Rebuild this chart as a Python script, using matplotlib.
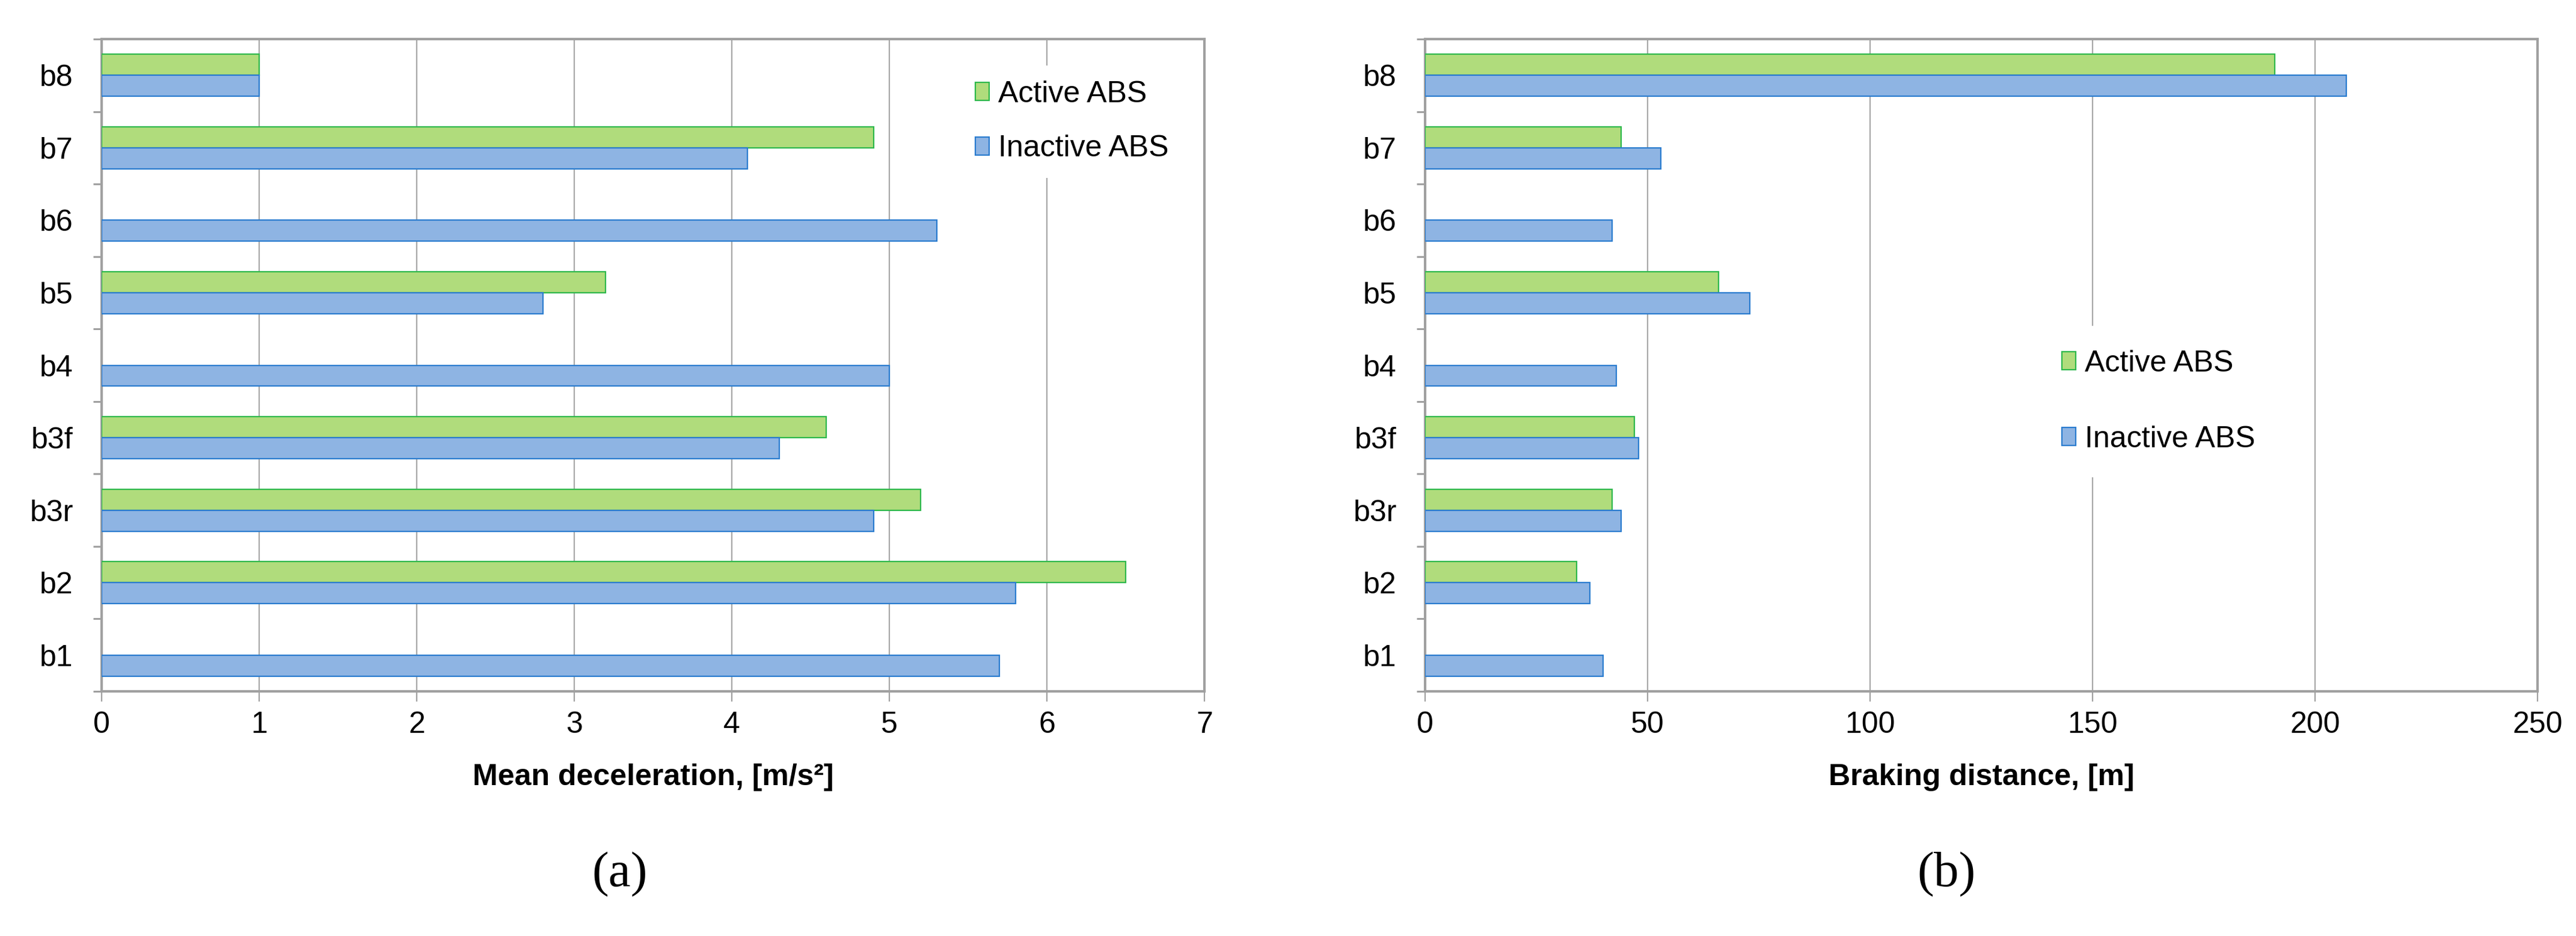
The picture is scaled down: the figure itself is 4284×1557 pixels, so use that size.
import numpy as np
import matplotlib
matplotlib.use('Agg')
import matplotlib.pyplot as plt
from matplotlib.patches import Patch

# categories from bottom to top
tests = ['b1', 'b2', 'b3r', 'b3f', 'b4', 'b5', 'b6', 'b7', 'b8']

# mean deceleration [m/s2]
decel_active = [np.nan, 6.5, 5.2, 4.6, np.nan, 3.2, np.nan, 4.9, 1.0]
decel_inactive = [5.7, 5.8, 4.9, 4.3, 5.0, 2.8, 5.3, 4.1, 1.0]

# braking distance [m]
dist_active = [np.nan, 34, 42, 47, np.nan, 66, np.nan, 44, 191]
dist_inactive = [40, 37, 44, 48, 43, 73, 42, 53, 207]

labels = ['Active ABS', 'Inactive ABS']

#### plotting options ####
W, H = 4284, 1557
green_fill, green_edge = '#B0DC7C', '#2EB84C'
blue_fill, blue_edge = '#8EB4E3', '#2A7CCF'
frame_col = '#A0A0A0'
grid_col = '#A8A8A8'
fs = 36
plt.rcParams['font.family'] = ['Liberation Sans', 'DejaVu Sans']

fig = plt.figure(figsize=(W / 100, H / 100), dpi=100)

def px_rect(x0, x1, y0, y1):
	return [x0 / W, 1 - y1 / H, (x1 - x0) / W, (y1 - y0) / H]

def draw_panel(ax, active, inactive, xmax, xstep, xlabel):
	y = np.arange(len(tests))
	h = 0.29
	act = np.array(active, dtype=float)
	ok = ~np.isnan(act)
	ax.barh(y[ok] + h / 2, act[ok], height=h, color=green_fill, edgecolor=green_edge, linewidth=1.6, zorder=3)
	ax.barh(y - h / 2, inactive, height=h, color=blue_fill, edgecolor=blue_edge, linewidth=1.6, zorder=3)

	ax.set_xlim(0, xmax)
	ax.set_ylim(-0.5, len(tests) - 0.5)
	ax.set_xticks(np.arange(0, xmax + xstep / 2, xstep))
	ax.set_yticks(y)
	ax.set_yticklabels(tests)
	ax.set_yticks(np.arange(-0.5, len(tests), 1.0), minor=True)
	ax.tick_params(axis='y', which='major', length=0, pad=34, labelsize=fs)
	ax.tick_params(axis='y', which='minor', length=10, width=2.2, color=frame_col)
	ax.tick_params(axis='x', length=12, width=1.6, color=frame_col, pad=12, labelsize=fs)
	ax.grid(axis='x', color=grid_col, linewidth=1.6, zorder=0)
	ax.set_axisbelow(True)
	for s in ax.spines.values():
		s.set_color(frame_col)
		s.set_linewidth(3)
	ax.set_xlabel(xlabel, fontsize=fs, fontweight='bold', labelpad=29)

ax1 = fig.add_axes(px_rect(169, 2003, 65, 1150))
draw_panel(ax1, decel_active, decel_inactive, 7, 1, 'Mean deceleration, [m/s²]')

ax2 = fig.add_axes(px_rect(2370, 4220, 65, 1150))
draw_panel(ax2, dist_active, dist_inactive, 250, 50, 'Braking distance, [m]')

handles = [Patch(facecolor=green_fill, edgecolor=green_edge, linewidth=1.6),
           Patch(facecolor=blue_fill, edgecolor=blue_edge, linewidth=1.6)]

leg1 = ax1.legend(handles, labels, loc='center left', bbox_to_anchor=(1572 / W, 1 - 202 / H),
                  bbox_transform=fig.transFigure, fontsize=fs, frameon=True, facecolor='white',
                  edgecolor='none', framealpha=1, fancybox=False, borderpad=0.5,
                  handlelength=0.46, handleheight=0.54, handletextpad=0.3, labelspacing=0.9)
leg2 = ax2.legend(handles, labels, loc='center left', bbox_to_anchor=(3364 / W, 1 - 668 / H),
                  bbox_transform=fig.transFigure, fontsize=fs, frameon=True, facecolor='white',
                  edgecolor='none', framealpha=1, fancybox=False, borderpad=0.8,
                  handlelength=0.46, handleheight=0.54, handletextpad=0.3, labelspacing=1.6)

fig.text(1031 / W, 1 - 1455 / H, '(a)', ha='center', va='center', fontsize=60,
         family=['Liberation Serif', 'DejaVu Serif'])
fig.text(3237 / W, 1 - 1455 / H, '(b)', ha='center', va='center', fontsize=60,
         family=['Liberation Serif', 'DejaVu Serif'])

fig.savefig('out.png', dpi=100, facecolor='white')
